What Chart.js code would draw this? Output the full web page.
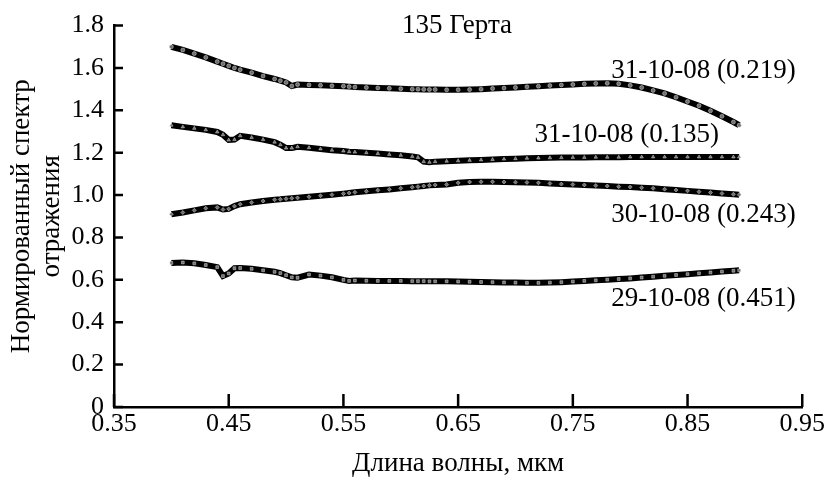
<!DOCTYPE html>
<html>
<head>
<meta charset="utf-8">
<script src="https://cdn.jsdelivr.net/npm/chart.js@4"></script>
<style>
html,body{margin:0;padding:0;background:#fff;}
#wrap{width:827px;height:477px;position:relative;}
</style>
</head>
<body>
<div id="wrap"><canvas id="c"></canvas></div>
<script>
// ---- data ----
const wavelength = [0.400,0.410,0.420,0.430,0.440,0.445,0.450,0.455,0.460,0.470,0.480,0.490,0.495,0.500,0.505,0.510,0.520,0.530,0.540,0.550,0.555,0.560,0.570,0.580,0.590,0.600,0.610,0.615,0.620,0.625,0.630,0.640,0.650,0.660,0.670,0.680,0.690,0.700,0.710,0.720,0.730,0.740,0.750,0.760,0.770,0.780,0.790,0.800,0.810,0.820,0.830,0.840,0.850,0.860,0.870,0.880,0.890,0.895];

const s_31_10_0219 = [1.700,1.685,1.668,1.650,1.630,1.620,1.610,1.600,1.592,1.578,1.562,1.548,1.540,1.532,1.515,1.522,1.520,1.518,1.516,1.514,1.512,1.510,1.508,1.506,1.504,1.502,1.500,1.500,1.499,1.498,1.498,1.497,1.497,1.498,1.500,1.503,1.505,1.508,1.511,1.514,1.517,1.520,1.522,1.525,1.527,1.528,1.526,1.518,1.508,1.494,1.480,1.462,1.442,1.422,1.398,1.372,1.345,1.330];

const s_31_10_0135 = [1.330,1.322,1.315,1.308,1.298,1.285,1.260,1.262,1.280,1.272,1.262,1.250,1.238,1.222,1.222,1.228,1.224,1.218,1.212,1.208,1.205,1.203,1.200,1.196,1.192,1.188,1.182,1.178,1.158,1.155,1.158,1.160,1.162,1.164,1.166,1.168,1.170,1.172,1.174,1.175,1.176,1.177,1.178,1.178,1.179,1.179,1.179,1.180,1.180,1.180,1.180,1.180,1.180,1.180,1.180,1.180,1.180,1.180];

const s_30_10_0243 = [0.910,0.918,0.928,0.938,0.942,0.932,0.935,0.948,0.957,0.965,0.972,0.978,0.980,0.983,0.985,0.987,0.992,0.997,1.002,1.007,1.010,1.013,1.018,1.023,1.027,1.032,1.037,1.040,1.043,1.046,1.048,1.050,1.058,1.062,1.063,1.063,1.062,1.061,1.060,1.058,1.055,1.052,1.050,1.048,1.045,1.043,1.040,1.038,1.035,1.032,1.028,1.024,1.020,1.016,1.012,1.008,1.004,1.002];

const s_29_10_0451 = [0.680,0.682,0.678,0.670,0.660,0.618,0.630,0.655,0.656,0.652,0.645,0.638,0.632,0.622,0.612,0.610,0.625,0.620,0.612,0.600,0.595,0.597,0.596,0.595,0.595,0.595,0.594,0.594,0.594,0.593,0.593,0.593,0.592,0.591,0.590,0.589,0.588,0.587,0.586,0.586,0.587,0.589,0.592,0.595,0.598,0.601,0.604,0.607,0.611,0.615,0.619,0.623,0.627,0.631,0.635,0.639,0.643,0.645];

const seriesNames = ['31-10-08 (0.219)','31-10-08 (0.135)','30-10-08 (0.243)','29-10-08 (0.451)'];
const seriesValues = [s_31_10_0219, s_31_10_0135, s_30_10_0243, s_29_10_0451];
const seriesMarkers = ['circle','triangle','rectRot','rect'];

const xTicks = [0.35,0.45,0.55,0.65,0.75,0.85,0.95];
const yTicks = [0,0.2,0.4,0.6,0.8,1.0,1.2,1.4,1.6,1.8];

const chartTitle = '135 Герта';
const xTitle = 'Длина волны, мкм';
const yTitle = ['Нормированный спектр','отражения'];

// label anchor positions in data space
const labelX = [0.864, 0.797, 0.864, 0.864];
const labelY = [1.585, 1.286, 0.907, 0.510];
const titleX = 0.649, titleY = 1.80;

// ---- chart ----
const FONT = "'Liberation Serif','Times New Roman',serif";

const datasets = seriesValues.map((vals, i) => ({
  label: seriesNames[i],
  data: wavelength.map((w, j) => ({x: w, y: vals[j]})),
  borderColor: '#000',
  borderWidth: 6,
  pointStyle: seriesMarkers[i],
  pointRadius: 2,
  pointBackgroundColor: '#6e6e6e',
  pointBorderColor: '#d8d8d8',
  pointBorderWidth: 0.5,
  tension: 0,
  fill: false
}));

const decorPlugin = {
  id: 'decor',
  afterDraw(chart) {
    const ctx = chart.ctx;
    const xs = chart.scales.x, ys = chart.scales.y;
    const area = chart.chartArea;
    ctx.save();
    ctx.strokeStyle = '#000';
    ctx.lineWidth = 2.5;
    ctx.beginPath();
    yTicks.forEach(v => {
      const py = ys.getPixelForValue(v);
      ctx.moveTo(area.left, py);
      ctx.lineTo(area.left + 9, py);
    });
    xTicks.forEach(v => {
      const px = xs.getPixelForValue(v);
      ctx.moveTo(px, area.bottom);
      ctx.lineTo(px, area.bottom - 13);
    });
    ctx.stroke();

    ctx.fillStyle = '#000';
    ctx.textAlign = 'center';
    ctx.textBaseline = 'middle';
    ctx.font = '27px ' + FONT;
    ctx.fillText(chartTitle, xs.getPixelForValue(titleX), ys.getPixelForValue(titleY));
    seriesNames.forEach((n, i) => {
      ctx.fillText(n, xs.getPixelForValue(labelX[i]), ys.getPixelForValue(labelY[i]));
    });
    ctx.restore();
  }
};

new Chart(document.getElementById('c'), {
  type: 'line',
  data: { datasets },
  plugins: [decorPlugin],
  options: {
    responsive: true,
    maintainAspectRatio: false,
    animation: false,
    layout: { padding: { top: 22, right: 23, left: 0, bottom: 0 } },
    plugins: { legend: { display: false }, tooltip: { enabled: false } },
    scales: {
      x: {
        type: 'linear',
        min: 0.35, max: 0.95,
        afterBuildTicks: s => { s.ticks = xTicks.map(v => ({value: v})); },
        afterFit: s => { s.height = 70; },
        grid: { display: false, drawTicks: false },
        border: { display: true, color: '#000', width: 2.5 },
        ticks: {
          color: '#000', padding: 2,
          font: { family: FONT, size: 26 },
          maxRotation: 0, autoSkip: false,
          callback: v => Number(v).toFixed(2)
        },
        title: {
          display: true, text: xTitle, color: '#000',
          font: { family: FONT, size: 27, lineHeight: 1.0 },
          padding: { top: 0, bottom: 0 }
        }
      },
      y: {
        type: 'linear',
        min: 0, max: 1.8,
        afterBuildTicks: s => { s.ticks = yTicks.map(v => ({value: v})); },
        afterFit: s => { s.width = 114; },
        grid: { display: false, drawTicks: false },
        border: { display: true, color: '#000', width: 2.5 },
        ticks: {
          color: '#000', padding: 10,
          font: { family: FONT, size: 26 },
          autoSkip: false,
          callback: v => (v === 0 ? '0' : Number(v).toFixed(1))
        },
        title: {
          display: true, text: yTitle, color: '#000',
          font: { family: FONT, size: 27, lineHeight: 1.1 },
          padding: { top: 7, bottom: 0 }
        }
      }
    }
  }
});
</script>
</body>
</html>
